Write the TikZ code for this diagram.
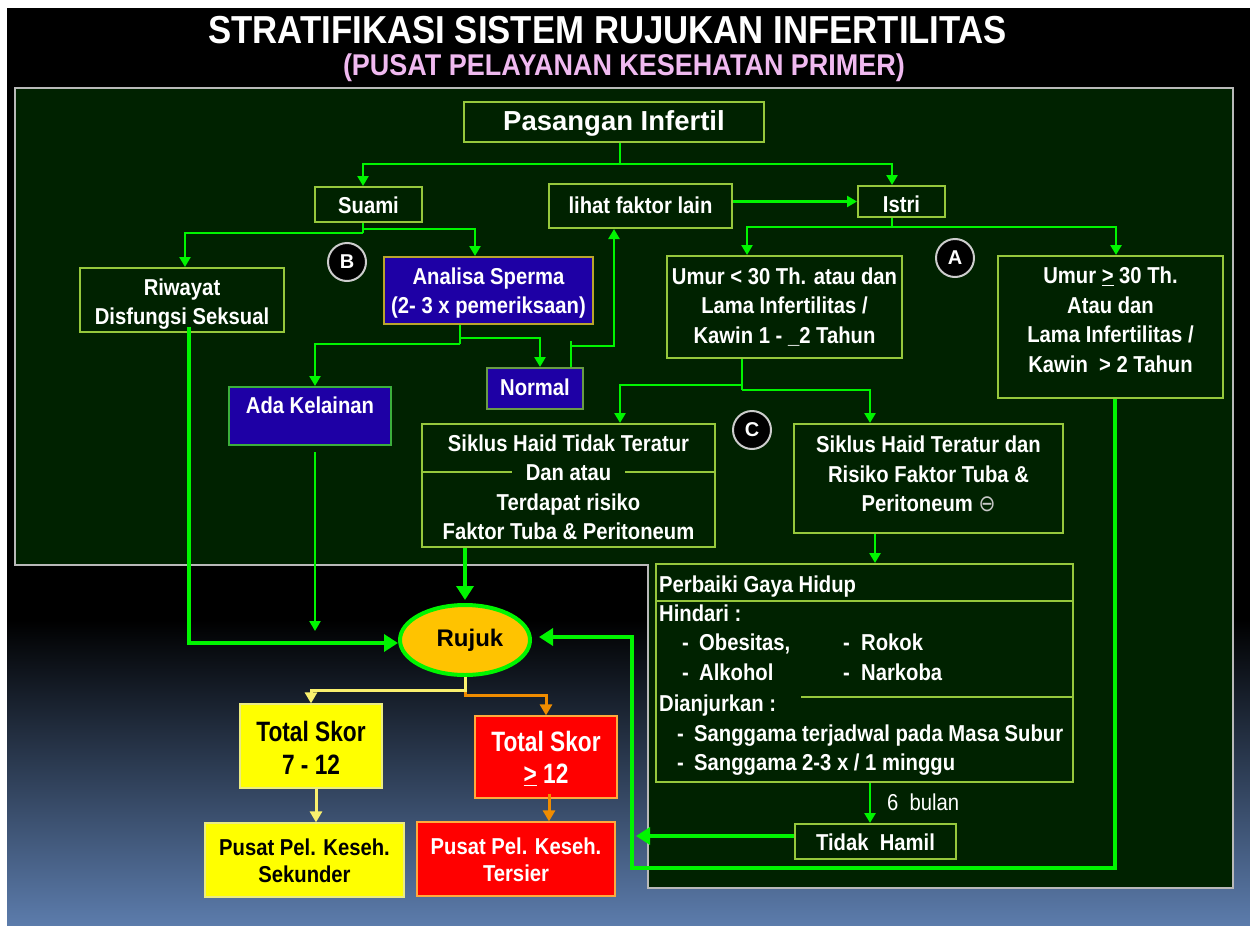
\documentclass[tikz,border=0pt]{standalone}
\usepackage{fontspec}
\setmainfont{Liberation Sans}
\newfontfamily\symfont{DejaVu Sans}
\usepackage{graphicx}
\usetikzlibrary{arrows.meta,shapes.geometric}

\definecolor{panelgreen}{RGB}{0,34,0}
\definecolor{paneledge}{RGB}{185,185,185}
\definecolor{boxedge}{RGB}{150,200,60}
\definecolor{flow}{RGB}{0,245,0}
\definecolor{deepblue}{RGB}{30,0,165}
\definecolor{goldedge}{RGB}{185,165,45}
\definecolor{adaedge}{RGB}{60,175,60}
\definecolor{normaledge}{RGB}{105,155,70}
\definecolor{rujukfill}{RGB}{255,195,0}
\definecolor{skoryellow}{RGB}{255,255,0}
\definecolor{skorred}{RGB}{255,0,0}
\definecolor{rededge}{RGB}{255,170,60}
\definecolor{yellowedge}{RGB}{235,235,130}
\definecolor{yellowflow}{RGB}{250,240,110}
\definecolor{orangeflow}{RGB}{240,140,0}
\definecolor{subtitlepink}{RGB}{240,185,240}
\definecolor{slidebottom}{RGB}{92,124,172}
\definecolor{circleedge}{RGB}{205,205,205}
\definecolor{minusgrey}{RGB}{200,200,200}

% centred multi-line text: [vertical shift]{horizontal squeeze}{lines}
\newcommand\tb[3][2.3pt]{\raisebox{-#1}[\height][\depth]{\scalebox{#2}[1]{\begin{tabular}{@{}c@{}}#3\end{tabular}}}}
\newcommand\nar[1]{\scalebox{0.88}[1]{#1}}
\newcommand\ugt{\underline{>}}

\begin{document}
\begin{tikzpicture}[x=1pt,y=-1pt,
  flowbox/.style={draw=boxedge, line width=2pt, fill=panelgreen, text=white, inner sep=0pt,
    font=\bfseries\fontsize{23}{29.5}\selectfont},
  bluebox/.style={flowbox, fill=deepblue},
  skor/.style={inner sep=0pt, line width=1.2pt, font=\bfseries\fontsize{28}{32.5}\selectfont},
  pusat/.style={inner sep=0pt, line width=1.2pt, font=\bfseries\fontsize{23}{27}\selectfont},
  lbl/.style={circle, fill=black, draw=circleedge, line width=2pt, minimum size=38pt, inner sep=0pt,
    text=white, font=\bfseries\fontsize{20}{20}\selectfont},
  ptxt/.style={anchor=base west, inner sep=0pt, text=white, font=\bfseries\fontsize{23}{28}\selectfont},
  boxline/.style={draw=boxedge, line width=2pt},
  conn/.style={draw=flow, line width=2.5pt},
  arr/.style={conn, -{Triangle[length=10pt,width=11pt]}},
  fat/.style={draw=flow, line width=4.5pt, -{Triangle[length=14pt,width=17pt]}},
  oarr/.style={draw=orangeflow, line width=3pt, -{Triangle[length=11pt,width=12pt]}},
  yarr/.style={draw=yellowflow, line width=3pt, -{Triangle[length=11pt,width=12pt]}}]

\useasboundingbox (0,0) rectangle (1250,926);

% slide background
\fill[white] (0,0) rectangle (1250,926);
\fill[black] (7,8) rectangle (1250,621);
\shade[top color=black, bottom color=slidebottom] (7,620) rectangle (1250,926);

% stepped green panel
\draw[fill=panelgreen, draw=paneledge, line width=2pt]
  (15,88) -- (1233,88) -- (1233,888) -- (648,888) -- (648,565) -- (15,565) -- cycle;

% headings
\node[anchor=base, text=white, inner sep=0pt] (title) at (607.5,43)
  {\resizebox{798pt}{\height}{\bfseries\fontsize{39}{39}\selectfont STRATIFIKASI SISTEM RUJUKAN INFERTILITAS}};
\node[anchor=base, text=subtitlepink, inner sep=0pt] (subtitle) at (624,75)
  {\resizebox{562pt}{\height}{\bfseries\fontsize{30}{30}\selectfont (PUSAT PELAYANAN KESEHATAN PRIMER)}};

% boxes
\node[flowbox, minimum width=300pt, minimum height=40pt, font=\bfseries\fontsize{27.5}{30}\selectfont]
  (pas) at (614,122) {\tb{1}{Pasangan Infertil}};
\node[flowbox, minimum width=107pt, minimum height=35pt] (suami) at (368.5,204.5) {\tb[2.8pt]{0.88}{Suami}};
\node[flowbox, minimum width=183pt, minimum height=44pt] (lihat) at (640.5,206) {\tb[1.3pt]{0.88}{lihat faktor lain}};
\node[flowbox, minimum width=87pt, minimum height=31pt] (istri) at (901.5,201.5) {\tb[5.5pt]{0.88}{Istri}};

\node[flowbox, minimum width=204pt, minimum height=64pt] (riw) at (182,300)
  {\tb[4.3pt]{0.88}{Riwayat\\Disfungsi Seksual}};
\node[bluebox, draw=goldedge, minimum width=209pt, minimum height=67pt] (ana) at (488.5,290.5)
  {\tb[2.8pt]{0.88}{Analisa Sperma\\(2- 3 x pemeriksaan)}};
\node[bluebox, draw=normaledge, minimum width=96pt, minimum height=41pt] (normal) at (535,388.5)
  {\tb[0.8pt]{0.88}{Normal}};
\node[bluebox, draw=adaedge, minimum width=162pt, minimum height=58pt] (ada) at (310,416)
  {\tb[-8.7pt]{0.88}{Ada Kelainan}};

\node[flowbox, minimum width=235pt, minimum height=102pt] (umur1) at (784.5,307)
  {\tb[0.8pt]{0.88}{Umur < 30 Th. atau dan\\Lama Infertilitas /\\Kawin 1 - \_2 Tahun}};
\node[flowbox, minimum width=225pt, minimum height=142pt] (umur2) at (1110.5,327)
  {\tb[-4.7pt]{0.88}{Umur \ugt{} 30 Th.\\Atau dan\\Lama Infertilitas /\\Kawin \ > 2 Tahun}};

\node[flowbox, minimum width=293pt, minimum height=123pt] (siktid) at (568.5,485.5)
  {\tb[4.3pt]{0.88}{Siklus Haid Tidak Teratur\\Dan atau\\Terdapat risiko\\Faktor Tuba \& Peritoneum}};
\node[flowbox, minimum width=269pt, minimum height=109pt] (sikter) at (928.5,478.5)
  {\tb[-2.2pt]{0.88}{Siklus Haid Teratur dan\\Risiko Faktor Tuba \&\\Peritoneum {\symfont\mdseries\color{minusgrey}⊖}}};

\node[flowbox, minimum width=417pt, minimum height=218pt] (perb) at (864.5,673) {};
\node[flowbox, minimum width=161pt, minimum height=35pt] (tidak) at (875.5,841.5) {\tb[2.8pt]{0.88}{Tidak\ \ Hamil}};
\node[anchor=base west, inner sep=0pt, text=white, font=\fontsize{23}{23}\selectfont] (bulan) at (887,810)
  {\nar{6\ \ bulan}};

% lifestyle advice inside the large box
\node[ptxt] (p1) at (659,592) {\nar{Perbaiki Gaya Hidup}};
\node[ptxt] (p2) at (659,621) {\nar{Hindari :}};
\node[ptxt] (p3a) at (682,650) {\nar{-}};
\node[ptxt] (p3b) at (699,650) {\nar{Obesitas,}};
\node[ptxt] (p3c) at (843,650) {\nar{-}};
\node[ptxt] (p3d) at (861,650) {\nar{Rokok}};
\node[ptxt] (p4a) at (682,680) {\nar{-}};
\node[ptxt] (p4b) at (699,680) {\nar{Alkohol}};
\node[ptxt] (p4c) at (843,680) {\nar{-}};
\node[ptxt] (p4d) at (861,680) {\nar{Narkoba}};
\node[ptxt] (p5) at (659,711) {\nar{Dianjurkan :}};
\node[ptxt] (p6a) at (677,741) {\nar{-}};
\node[ptxt] (p6b) at (694,741) {\nar{Sanggama terjadwal pada Masa Subur}};
\node[ptxt] (p7a) at (677,770) {\nar{-}};
\node[ptxt] (p7b) at (694,770) {\nar{Sanggama 2-3 x / 1 minggu}};

% referral and score boxes
\node[ellipse, draw=flow, line width=4pt, fill=rujukfill, minimum width=130pt, minimum height=70pt,
  inner sep=0pt, text=black, font=\bfseries\fontsize{24}{24}\selectfont] (rujuk) at (465,640) {\hspace{10pt}Rujuk};
\node[skor, fill=skoryellow, draw=yellowedge, text=black, minimum width=142pt, minimum height=84pt]
  (ts1) at (311,746) {\tb[5.3pt]{0.81}{Total Skor\\7 - 12}};
\node[skor, fill=skorred, draw=rededge, text=white, minimum width=142pt, minimum height=82pt]
  (ts2) at (546,757) {\tb[3.8pt]{0.81}{Total Skor\\\ugt{} 12}};
\node[pusat, fill=skoryellow, draw=yellowedge, text=black, minimum width=199pt, minimum height=74pt]
  (sek) at (304.5,860) {\tb[3.8pt]{0.88}{Pusat Pel. Keseh.\\Sekunder}};
\node[pusat, fill=skorred, draw=rededge, text=white, minimum width=198pt, minimum height=74pt]
  (ter) at (516,859) {\tb[3.3pt]{0.88}{Pusat Pel. Keseh.\\Tersier}};

% letter markers
\node[lbl] (cB) at (347,262) {B};
\node[lbl] (cA) at (955,258) {A};
\node[lbl] (cC) at (752,430) {C};

% dividers inside boxes
\coordinate (dL) at (512,472);
\coordinate (dR) at (625,472);
\draw[boxline] (siktid.west |- dL) -- (dL);
\draw[boxline] (dR) -- (siktid.east |- dR);
\coordinate (pL1) at (656,601);
\coordinate (pL2) at (801,697);
\draw[boxline] (perb.west |- pL1) -- (perb.east |- pL1);
\draw[boxline] (pL2) -- (perb.east |- pL2);

% junction points
\coordinate (jP) at (620,164);
\coordinate (jS1) at (363,233);
\coordinate (jS2) at (363,229);
\coordinate (jA1) at (460,344);
\coordinate (jA2) at (460,338);
\coordinate (jN) at (571,346);
\coordinate (jNt) at (571,341);
\coordinate (jI) at (892,227);
\coordinate (jU1) at (742,385);
\coordinate (jU2) at (742,390);
\coordinate (lp1) at (1115,868);
\coordinate (lp2) at (632,868);
\coordinate (lp3) at (632,637);
\coordinate (tipT) at (636,836);
\coordinate (rw2) at (189,643);
\coordinate (adaT) at (315,631);
\coordinate (jR1) at (465,690);
\coordinate (jR2) at (465,695);

% couple -> husband / wife
\draw[conn] (pas.south -| jP) -- (jP);
\draw[arr] (jP) -| ([xshift=-5.5pt]suami.north);
\draw[arr] (jP) -| ([xshift=-9.5pt]istri.north);
\draw[arr] (lihat.east |- istri.west) -- (istri.west);

% husband branch
\draw[conn] ([xshift=-5.5pt]suami.south) -- (jS1);
\draw[arr] (jS1) -| ([xshift=3pt]riw.north);
\draw[arr] (jS2) -| ([xshift=-13.5pt]ana.north);
\draw[conn] ([xshift=-28.5pt]ana.south) -- (jA1);
\draw[arr] (jA1) -| ([xshift=5pt]ada.north);
\draw[arr] (jA2) -| ([xshift=5pt]normal.north);
\draw[conn] ([xshift=36pt]normal.north) -- (jNt);
\draw[arr] (jN) -| ([xshift=-26.5pt]lihat.south);

% wife branch
\draw[conn] ([xshift=-9.5pt]istri.south) -- (jI);
\draw[arr] (jI) -| ([xshift=-37.5pt]umur1.north);
\draw[arr] (jI) -| ([xshift=5.5pt]umur2.north);
\draw[conn] ([xshift=-42.5pt]umur1.south) -- (jU2);
\draw[arr] (jU1) -| ([xshift=51.5pt]siktid.north);
\draw[arr] (jU2) -| ([xshift=-58.5pt]sikter.north);
\draw[arr] ([xshift=-53.5pt]sikter.south) -- ([xshift=-53.5pt]sikter.south |- perb.north);
\draw[arr] ([xshift=5.5pt]perb.south) -- ([xshift=-5.5pt]tidak.north);

% routes into the referral
\draw[fat] (siktid.south -| rujuk.north) -- ([yshift=3pt]rujuk.north);
\draw[fat] ([xshift=7pt,yshift=6pt]riw.south) -- (rw2) -- ([yshift=-3pt]rujuk.west);
\draw[arr] ([xshift=5pt,yshift=-6pt]ada.south) -- (adaT);
\draw[fat] ([xshift=4.5pt]umur2.south) -- (lp1) -- (lp2) -- (lp3) -- ([xshift=7pt,yshift=3pt]rujuk.east);
\draw[fat] ([yshift=5.5pt]tidak.west) -- (tipT);

% referral -> score -> level of care
\draw[oarr] (rujuk.south) -- (jR2) -| (ts2.north);
\draw[yarr] (rujuk.south) -- (jR1) -| (ts1.north);
\draw[yarr] ([xshift=5pt]ts1.south) -- ([xshift=11.5pt]sek.north);
\draw[oarr] ([xshift=3pt,yshift=5pt]ts2.south) -- ([xshift=33pt]ter.north);

\end{tikzpicture}
\end{document}
